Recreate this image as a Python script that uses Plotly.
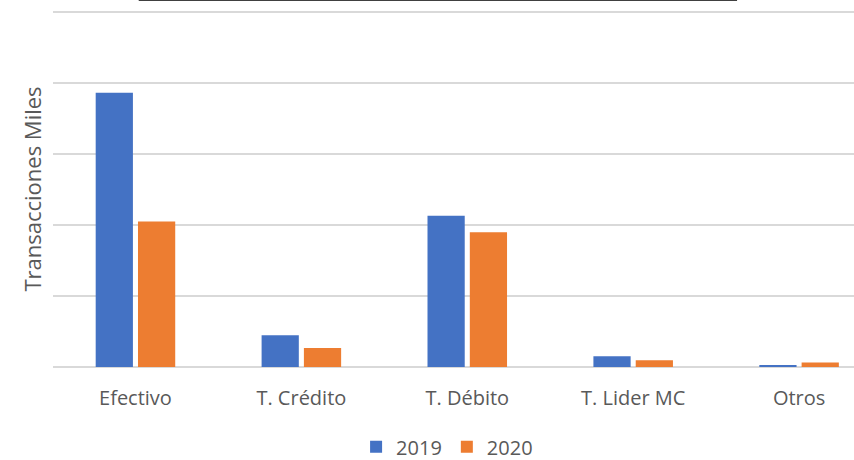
import plotly.graph_objects as go

categories = ["Efectivo", "T. Crédito", "T. Débito", "T. Lider MC", "Otros"]
series_names = ["2019", "2020"]
values_2019 = [38650, 4460, 21300, 1510, 280]
values_2020 = [20500, 2680, 18970, 940, 620]
colors = ["#4472C4", "#ED7D31"]

fig = go.Figure()
for name, vals, col in zip(series_names, [values_2019, values_2020], colors):
    fig.add_trace(go.Bar(x=categories, y=vals, name=name, marker_color=col,
                         marker_line_width=0))

font_family = "'Open Sans', sans-serif"
fig.update_layout(
    width=854, height=460,
    margin=dict(l=53, r=0, t=11, b=93, autoexpand=False),
    paper_bgcolor="white", plot_bgcolor="white",
    barmode="group", bargap=0.49, bargroupgap=0.12,
    font=dict(family=font_family, color="#595959", size=20),
    showlegend=True,
    legend=dict(orientation="h", x=0.492, xanchor="center", y=-0.279, yanchor="bottom",
                font=dict(size=20, color="#595959"), itemwidth=30,
                bgcolor="rgba(0,0,0,0)"),
    xaxis=dict(range=[-0.497, 4.331], showgrid=False, showline=False, ticks="",
               tickfont=dict(size=20, color="#595959"), zeroline=False,
               automargin=False, ticklabelstandoff=17),
    yaxis=dict(range=[0, 50150], tick0=0, dtick=10000, showgrid=True, gridcolor="#D9D9D9",
               gridwidth=1.5, showticklabels=False, zeroline=True,
               zerolinecolor="#D9D9D9", zerolinewidth=1.5, automargin=False,
               title=dict(text="Transacciones Miles", font=dict(size=22, color="#595959"),
                          standoff=4)),
    shapes=[dict(type="line", xref="paper", yref="paper", x0=0.107, x1=0.854,
                 y0=1.031, y1=1.031, line=dict(color="#404040", width=2))],
)

fig.write_html("out.html", config={"displayModeBar": False},
               post_script="document.body.style.margin='0';")
